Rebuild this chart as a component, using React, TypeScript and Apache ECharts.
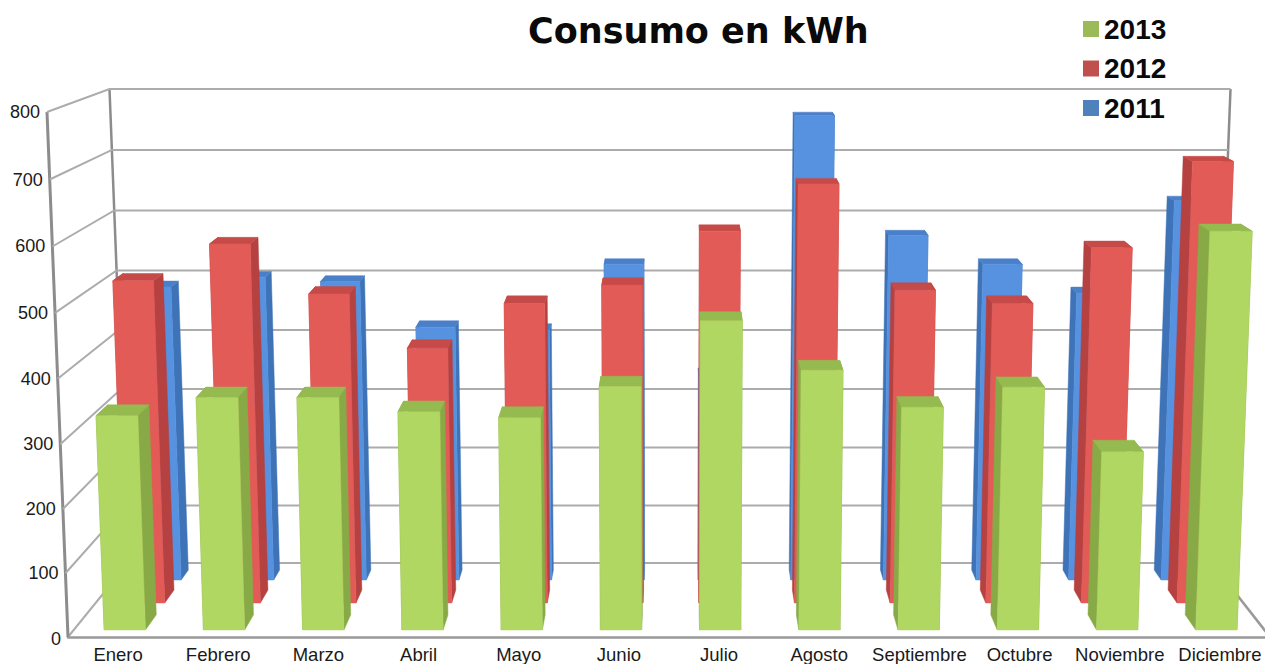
import React, { useEffect, useRef } from "react";
import * as echarts from "echarts";

const categories = ["Enero", "Febrero", "Marzo", "Abril", "Mayo", "Junio", "Julio", "Agosto", "Septiembre", "Octubre", "Noviembre", "Diciembre"];
const values2013 = [336, 364, 364, 342, 333, 381, 482, 406, 349, 380, 280, 618];
const values2012 = [520, 578, 499, 413, 484, 513, 598, 672, 505, 484, 572, 707];
const values2011 = [489, 505, 498, 423, 418, 526, 344, 766, 573, 526, 479, 629];
const tickValues = [0, 100, 200, 300, 400, 500, 600, 700, 800];

const GRID = { left: 68, top: 112, width: 1202, height: 525 };
const BOTTOM = GRID.top + GRID.height;
const BAR_SHIFT = 1.5;

// Projects plane coordinates (u across, v up, d into the picture) to pixels.
function project(u: number, v: number, d: number): [number, number] {
  const w = v - 0.033 * v * (1 - v);
  const cx = 669 + d;
  const half = (601 + 21 * w) * (1 - d) + (542 + 18.5 * w) * d;
  const y0 = 637 - 74 * d;
  const h = 525 - 51 * d;
  return [cx + (2 * u - 1) * half, y0 - h * w];
}

function barRenderer(front: number, back: number, colors: { face: string; side: string; top: string }) {
  return (_params: any, api: any) => {
    const cat = api.value(0);
    const val = api.value(1);
    const p = api.coord([cat, val]);
    const band = api.size([1, 0])[0];
    const uc = (p[0] + BAR_SHIFT - GRID.left) / GRID.width;
    const v = (BOTTOM - p[1]) / GRID.height;
    const du = (band * 0.208) / GRID.width;
    const a = uc - du;
    const b = uc + du;
    const poly = (pts: [number, number][], fill: string) => ({
      type: "polygon",
      shape: { points: pts },
      style: { fill, stroke: fill, lineWidth: 0.5 },
    });
    return {
      type: "group",
      children: [
        poly([project(a, 0, front), project(a, 0, back), project(a, v, back), project(a, v, front)], colors.side),
        poly([project(b, 0, front), project(b, 0, back), project(b, v, back), project(b, v, front)], colors.side),
        poly([project(a, v, front), project(b, v, front), project(b, v, back), project(a, v, back)], colors.top),
        poly([project(a, 0, front), project(b, 0, front), project(b, v, front), project(a, v, front)], colors.face),
      ],
    };
  };
}

function frameRenderer(_params: any, api: any) {
  const val = api.value(0);
  const p = api.coord([0, val]);
  const v = (BOTTOM - p[1]) / GRID.height;
  const line = (pts: [number, number][], stroke: string, lineWidth: number) => ({
    type: "polyline",
    shape: { points: pts },
    style: { stroke, lineWidth, fill: "none" },
  });
  const children: any[] = [
    line([project(0, v, 0), project(0, v, 1), project(1, v, 1)], "#acacac", 2),
  ];
  const tick = project(0, v, 0);
  children.push({
    type: "text",
    style: {
      text: String(val),
      x: tick[0] - 7,
      y: tick[1] + (val === 0 ? 2 : 0),
      align: "right",
      verticalAlign: "middle",
      fontFamily: "Liberation Sans",
      fontSize: 18,
      fill: "#1a1a1a",
    },
  });
  if (val === 0) {
    children.push(line([project(1, 0, 1), project(1, 0, 0)], "#999999", 2.5));
    children.push(line([project(0, 0, 0), project(0, 1, 0)], "#8c8c8c", 3));
    children.push(line([project(0, 0, 1), project(0, 1, 1)], "#8c8c8c", 2.5));
    children.push(line([project(1, 0, 1), project(1, 1, 1)], "#8c8c8c", 2.5));
  }
  return { type: "group", children };
}

const PALETTE = {
  y2013: { face: "#b0d762", side: "#88aa46", top: "#95bb50", legend: "#9bbb59" },
  y2012: { face: "#e25b56", side: "#b54140", top: "#c64b48", legend: "#c0504d" },
  y2011: { face: "#5692df", side: "#3e73b7", top: "#4a80c9", legend: "#4f81bd" },
};

function barSeries(name: string, values: number[], front: number, back: number, colors: any, z: number) {
  return {
    type: "custom",
    name,
    z,
    silent: true,
    data: values.map((value, i) => [i, value]),
    encode: { x: 0, y: 1 },
    itemStyle: { color: colors.legend },
    renderItem: barRenderer(front, back, colors),
  };
}

export default function App() {
  const ref = useRef<HTMLDivElement>(null);
  useEffect(() => {
    document.body.style.margin = "0";
    const chart = echarts.init(ref.current!, null, { renderer: "svg" });
    chart.setOption({
      animation: false,
      backgroundColor: "#ffffff",
      title: {
        text: "Consumo en kWh",
        left: 523,
        top: 8,
        textStyle: { fontFamily: "DejaVu Sans", fontWeight: "bold", fontSize: 35, color: "#0a0a0a" },
      },
      legend: {
        data: ["2013", "2012", "2011"],
        orient: "vertical",
        left: 1078,
        top: 10,
        itemWidth: 16,
        itemHeight: 16,
        itemGap: 11.5,
        icon: "rect",
        textStyle: { fontFamily: "Liberation Sans", fontWeight: "bold", fontSize: 28, color: "#0a0a0a" },
      },
      grid: { left: GRID.left, top: GRID.top, width: GRID.width, height: GRID.height, outerBoundsMode: "none" },
      xAxis: {
        type: "category",
        data: categories,
        axisTick: { show: false },
        axisLine: { show: true, lineStyle: { color: "#999999", width: 2.5 } },
        axisLabel: { interval: 0, margin: 8, fontFamily: "Liberation Sans", fontSize: 18.5, color: "#1a1a1a", hideOverlap: false },
      },
      yAxis: { type: "value", min: 0, max: 800, interval: 100, show: false },
      series: [
        {
          type: "custom",
          name: "marco",
          z: 1,
          silent: true,
          data: tickValues.map((t) => [t]),
          encode: { y: 0 },
          renderItem: frameRenderer,
        },
        barSeries("2011", values2011, 0.77, 0.905, PALETTE.y2011, 2),
        barSeries("2012", values2012, 0.46, 0.635, PALETTE.y2012, 3),
        barSeries("2013", values2013, 0.095, 0.3, PALETTE.y2013, 4),
      ],
    });
    return () => chart.dispose();
  }, []);
  return <div ref={ref} style={{ width: 1265, height: 664 }} />;
}
